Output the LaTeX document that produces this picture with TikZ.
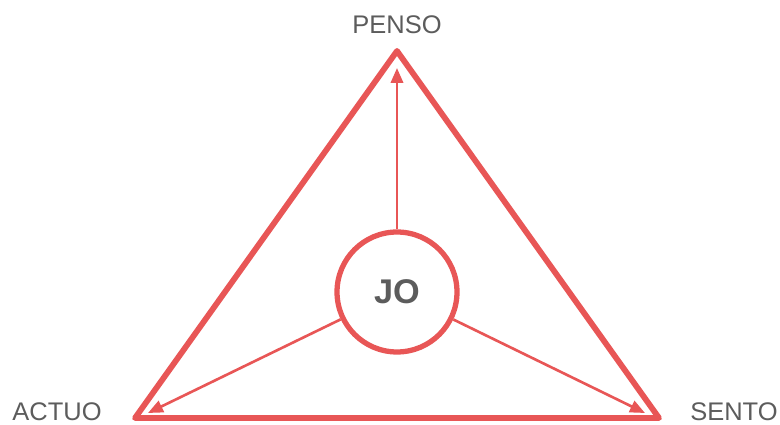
\documentclass[tikz,border=0pt]{standalone}
\usepackage{fontspec}
\setmainfont{Liberation Sans}
\usetikzlibrary{arrows.meta,positioning,calc}
\definecolor{tred}{HTML}{E85656}
\definecolor{tgrey}{HTML}{5C5C5C}

\begin{document}
\begin{tikzpicture}[x=0.02cm,y=0.02cm,>={Triangle[length=8.5pt,width=7pt]},
 tri/.style={draw=tred,line width=3.3pt,line join=round},
 me/.style={circle,draw=tred,line width=3pt,fill=white,minimum size=2.4cm,
  inner sep=0pt,text=tgrey,font=\fontsize{19.5}{22}\selectfont\bfseries},
 lbl/.style={text=tgrey,font=\fontsize{14.5}{16}\selectfont,inner sep=0pt},
 arr/.style={->,draw=tred,line width=1.5pt}]
\useasboundingbox (0,0) rectangle (780,425);
\coordinate (top) at (397,374);
\coordinate (left) at (135,7);
\coordinate (right) at (659,7);
\draw[tri] (top) -- (left) -- (right) -- cycle;
\node[me] (jo) at (397,133) {JO};
\coordinate (tPenso) at (397,357);
\coordinate (tActuo) at (148,12);
\coordinate (tSento) at (645,12);
\draw[arr] (jo) -- (tPenso);
\draw[arr] (jo) -- (tActuo);
\draw[arr] (jo) -- (tSento);
\node[lbl] (penso) at (397,400) {PENSO};
\node[lbl] (actuo) at (57,13) {ACTUO};
\node[lbl] (sento) at (734,13) {SENTO};
\end{tikzpicture}
\end{document}
